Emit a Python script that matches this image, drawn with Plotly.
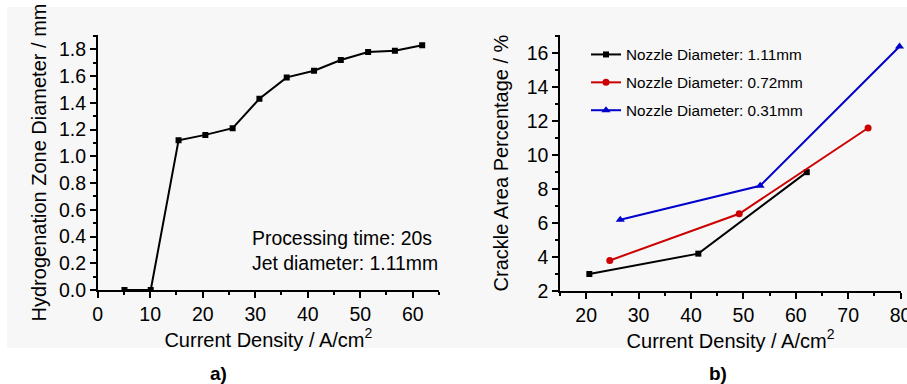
import plotly.graph_objects as go

W, H = 907, 384

# Panel a data
a_x = [5.1, 10.1, 15.4, 20.5, 25.7, 30.8, 36.0, 41.2, 46.3, 51.5, 56.6, 61.8]
a_y = [0.0, 0.0, 1.12, 1.16, 1.21, 1.43, 1.59, 1.64, 1.72, 1.78, 1.79, 1.83]

# Panel b data
b_names = ["Nozzle Diameter: 1.11mm", "Nozzle Diameter: 0.72mm", "Nozzle Diameter: 0.31mm"]
b_x = [[20.6, 41.4, 62.1], [24.5, 49.2, 73.8], [26.5, 53.2, 79.8]]
b_y = [[3.0, 4.2, 9.0], [3.8, 6.55, 11.6], [6.2, 8.2, 16.4]]
b_colors = ["#000000", "#cc0000", "#0000cc"]
b_symbols = ["square", "circle", "triangle-up"]

FONT = "Liberation Sans, Arial, sans-serif"

def px(x):
    return x / W

def py(y):
    return (H - y) / H

fig = go.Figure()

fig.add_trace(go.Scatter(x=a_x, y=a_y, mode="lines+markers",
                         line=dict(color="black", width=2),
                         marker=dict(symbol="square", size=6, color="black"),
                         showlegend=False, xaxis="x", yaxis="y"))

for i in range(3):
    fig.add_trace(go.Scatter(x=b_x[i], y=b_y[i], mode="lines+markers", name=b_names[i],
                             line=dict(color=b_colors[i], width=2),
                             marker=dict(symbol=b_symbols[i], size=[6, 7, 8][i], color=b_colors[i]),
                             legendgroup=f"g{i}", cliponaxis=False,
                             xaxis="x2", yaxis="y2"))

axis_common = dict(showline=True, linecolor="black", linewidth=1.5, ticks="outside",
                   ticklen=6, tickwidth=1.5, tickcolor="black", showgrid=False,
                   zeroline=False, mirror=False, automargin=False,
                   tickfont=dict(family=FONT, size=19.5, color="black"),
                   title_font=dict(family=FONT, size=20, color="black"))

fig.update_layout(
    width=W, height=H,
    margin=dict(l=0, r=0, t=0, b=0),
    paper_bgcolor="white", plot_bgcolor="rgba(0,0,0,0)",
    font=dict(family=FONT, color="black"),
    xaxis=dict(domain=[px(97.7), px(439)], range=[0, 65], dtick=10, tick0=0,
               minor=dict(dtick=5, ticklen=3, tickwidth=1.5, tickcolor="black", ticks="outside"),
               title=dict(text="Current Density / A/cm<sup>2</sup>", standoff=1),
               anchor="y", **axis_common),
    yaxis=dict(domain=[py(290), py(35)], range=[0, 1.907], dtick=0.2, tick0=0,
               tickformat=".1f",
               minor=dict(dtick=0.1, ticklen=3, tickwidth=1.5, tickcolor="black", ticks="outside"),
               title=dict(text="Hydrogenation Zone Diameter / mm", standoff=7),
               anchor="x", **axis_common),
    xaxis2=dict(domain=[px(560), px(901)], range=[15, 80.08], dtick=10, tick0=0,
                ticklabeloverflow="allow",
                minor=dict(dtick=5, ticklen=3, tickwidth=1.5, tickcolor="black", ticks="outside"),
                title=dict(text="Current Density / A/cm<sup>2</sup>", standoff=1),
                anchor="y2", **axis_common),
    yaxis2=dict(domain=[py(291), py(35)], range=[2, 17.08], dtick=2, tick0=0,
                minor=dict(dtick=1, ticklen=3, tickwidth=1.5, tickcolor="black", ticks="outside"),
                title=dict(text="Crackle Area Percentage / %", standoff=13),
                anchor="x2", **axis_common),
    legend=dict(x=px(586), y=py(38), xanchor="left", yanchor="top",
                bgcolor="rgba(0,0,0,0)", borderwidth=0,
                font=dict(family=FONT, size=15.3, color="black"),
                traceorder="grouped", tracegroupgap=5),
    shapes=[dict(type="rect", xref="paper", yref="paper", x0=px(7), x1=1.0,
                 y0=py(348), y1=py(7), fillcolor="#f7f7f7", line=dict(width=0),
                 layer="below")],
    annotations=[
        dict(text="Processing time: 20s<br>Jet diameter: 1.11mm", xref="paper", yref="paper",
             x=px(250), y=py(250), xanchor="left", yanchor="middle", align="left",
             showarrow=False, font=dict(family=FONT, size=19.4, color="black")),
        dict(text="<b>a)</b>", xref="paper", yref="paper", x=px(218), y=py(373),
             xanchor="center", yanchor="middle", showarrow=False,
             font=dict(family=FONT, size=19, color="black")),
        dict(text="<b>b)</b>", xref="paper", yref="paper", x=px(718), y=py(373),
             xanchor="center", yanchor="middle", showarrow=False,
             font=dict(family=FONT, size=19, color="black")),
    ],
)

fig.write_html("out.html")
